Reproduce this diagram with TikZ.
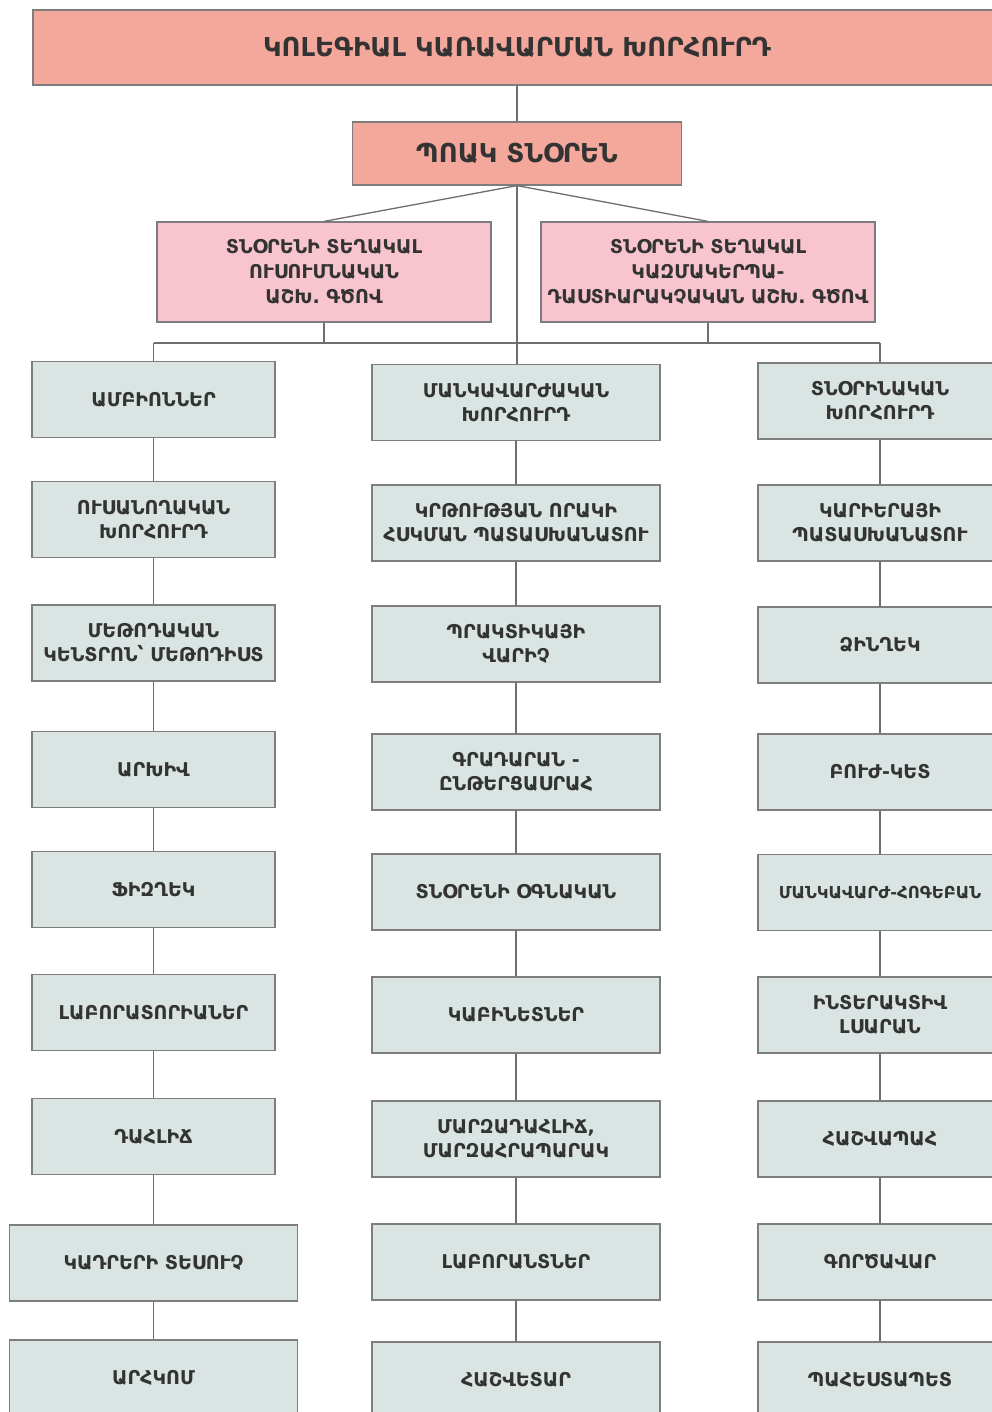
\documentclass[tikz,border=0pt]{standalone}
\usepackage{fontspec}
\setmainfont{DejaVu Sans}
\definecolor{topfill}{HTML}{F4A79B}
\definecolor{depfill}{HTML}{F8C5CF}
\definecolor{boxfill}{HTML}{D9E4E3}
\definecolor{boxline}{HTML}{7D7D7D}
\definecolor{conncol}{HTML}{6E6E6E}
\definecolor{txt}{HTML}{333333}
\begin{document}
\begin{tikzpicture}[x=1pt,y=-1pt,
  box/.style={draw=boxline, line width=1.2pt, fill=boxfill, minimum width=243pt, minimum height=76pt, inner sep=0pt, align=center, font=\fontsize{19}{24}\selectfont\bfseries, text=txt},
  wide/.style={box, minimum width=288pt},
  topbox/.style={box, fill=topfill},
  depbox/.style={box, fill=depfill, minimum width=334pt, minimum height=100pt, font=\fontsize{19}{25}\selectfont\bfseries},
  conn/.style={draw=conncol, line width=1.3pt}]
\useasboundingbox (0,0) rectangle (992,1412);
\clip (0,0) rectangle (992,1412);
\fill[white] (0,0) rectangle (992,1412);

\node[topbox, minimum width=968pt, minimum height=75pt, font=\fontsize{26}{30}\selectfont\bfseries] (top) at (517,47.5) {ԿՈԼԵԳԻԱԼ ԿԱՌԱՎԱՐՄԱՆ ԽՈՐՀՈՒՐԴ};
\node[topbox, minimum width=329pt, minimum height=63pt, font=\fontsize{26}{30}\selectfont\bfseries] (dir) at (517,153.5) {ՊՈԱԿ ՏՆՕՐԵՆ};
\node[depbox] (depA) at (324,272) {ՏՆՕՐԵՆԻ ՏԵՂԱԿԱԼ\\ՈՒՍՈՒՄՆԱԿԱՆ\\ԱՇԽ. ԳԾՈՎ};
\node[depbox] (depB) at (708,272) {ՏՆՕՐԵՆԻ ՏԵՂԱԿԱԼ\\ԿԱԶՄԱԿԵՐՊԱ-\\ԴԱՍՏԻԱՐԱԿՉԱԿԱՆ ԱՇԽ. ԳԾՈՎ};

% left column
\node[box] (l1) at (153.5,399.5) {ԱՄԲԻՈՆՆԵՐ};
\node[box] (l2) at (153.5,519.5) {ՈՒՍԱՆՈՂԱԿԱՆ\\ԽՈՐՀՈՒՐԴ};
\node[box] (l3) at (153.5,643) {ՄԵԹՈԴԱԿԱՆ\\ԿԵՆՏՐՈՆ՝ ՄԵԹՈԴԻՍՏ};
\node[box] (l4) at (153.5,769.5) {ԱՐԽԻՎ};
\node[box] (l5) at (153.5,889.5) {ՖԻԶՂԵԿ};
\node[box] (l6) at (153.5,1012.5) {ԼԱԲՈՐԱՏՈՐԻԱՆԵՐ};
\node[box] (l7) at (153.5,1136.5) {ԴԱՀԼԻՃ};
\node[wide] (l8) at (153.5,1263) {ԿԱԴՐԵՐԻ ՏԵՍՈՒՉ};
\node[wide] (l9) at (153.5,1378) {ԱՐՀԿՈՄ};

% middle column
\node[wide] (m1) at (516,402.5) {ՄԱՆԿԱՎԱՐԺԱԿԱՆ\\ԽՈՐՀՈՒՐԴ};
\node[wide] (m2) at (516,523) {ԿՐԹՈՒԹՅԱՆ ՈՐԱԿԻ\\ՀՍԿՄԱՆ ՊԱՏԱՍԽԱՆԱՏՈՒ};
\node[wide] (m3) at (516,644) {ՊՐԱԿՏԻԿԱՅԻ\\ՎԱՐԻՉ};
\node[wide] (m4) at (516,772) {ԳՐԱԴԱՐԱՆ -\\ԸՆԹԵՐՑԱՍՐԱՀ};
\node[wide] (m5) at (516,892) {ՏՆՕՐԵՆԻ ՕԳՆԱԿԱՆ};
\node[wide] (m6) at (516,1015) {ԿԱԲԻՆԵՏՆԵՐ};
\node[wide] (m7) at (516,1139) {ՄԱՐԶԱԴԱՀԼԻՃ,\\ՄԱՐԶԱՀՐԱՊԱՐԱԿ};
\node[wide] (m8) at (516,1262) {ԼԱԲՈՐԱՆՏՆԵՐ};
\node[wide] (m9) at (516,1380) {ՀԱՇՎԵՏԱՐ};

% right column
\node[box, minimum width=244pt] (r1) at (880,401) {ՏՆՕՐԻՆԱԿԱՆ\\ԽՈՐՀՈՒՐԴ};
\node[box, minimum width=244pt] (r2) at (880,523) {ԿԱՐԻԵՐԱՅԻ\\ՊԱՏԱՍԽԱՆԱՏՈՒ};
\node[box, minimum width=244pt] (r3) at (880,645) {ՁԻՆՂԵԿ};
\node[box, minimum width=244pt] (r4) at (880,772) {ԲՈՒԺ-ԿԵՏ};
\node[box, minimum width=244pt, font=\fontsize{16.5}{24}\selectfont\bfseries] (r5) at (880,892.5) {ՄԱՆԿԱՎԱՐԺ-ՀՈԳԵԲԱՆ};
\node[box, minimum width=244pt] (r6) at (880,1015) {ԻՆՏԵՐԱԿՏԻՎ\\ԼՍԱՐԱՆ};
\node[box, minimum width=244pt] (r7) at (880,1139) {ՀԱՇՎԱՊԱՀ};
\node[box, minimum width=244pt] (r8) at (880,1262) {ԳՈՐԾԱՎԱՐ};
\node[box, minimum width=244pt] (r9) at (880,1380) {ՊԱՀԵՍՏԱՊԵՏ};

\coordinate (bus) at (517,343);
\coordinate (busL) at (153.5,343);
\coordinate (busR) at (880,343);

\draw[conn] (top.south) -- (dir.north);
\draw[conn] (dir.south) -- (depA.north);
\draw[conn] (dir.south) -- (depB.north);
\draw[conn] (dir.south) -- (bus);
\draw[conn] (depA.south) -- (depA.south |- bus);
\draw[conn] (depB.south) -- (depB.south |- bus);
\draw[conn] (busL) -- (busR);
\draw[conn] (busL) -- (l1.north);
\draw[conn] (bus) -- (bus |- m1.north);
\draw[conn] (busR) -- (r1.north);

\foreach \c in {l,m,r}{
  \foreach \i [evaluate=\i as \j using int(\i+1)] in {1,...,8}{
    \draw[conn] (\c\i.south) -- (\c\j.north);
  }
}
\end{tikzpicture}
\end{document}
